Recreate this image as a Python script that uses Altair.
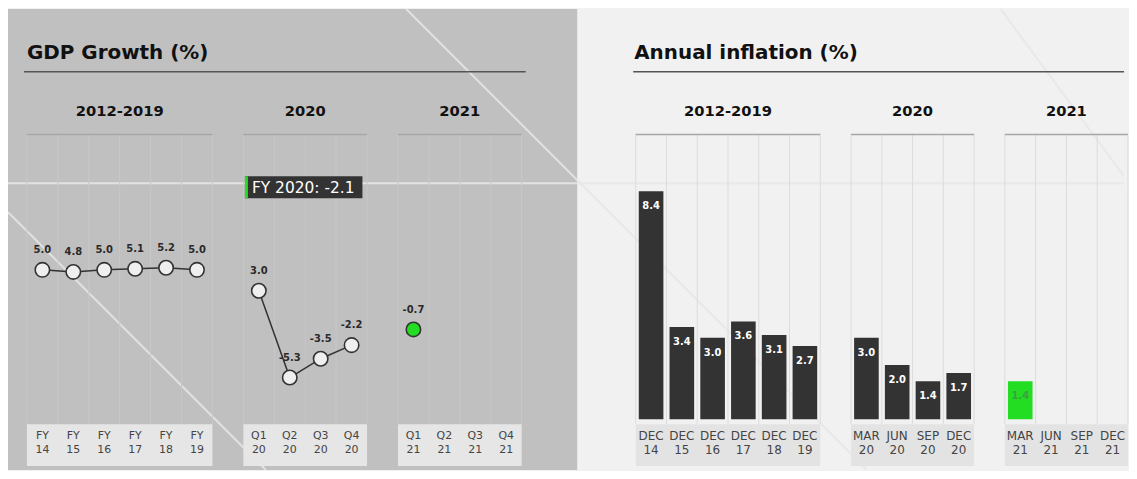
import altair as alt
import pandas as pd

# ------------------------------------------------------------------ data
group_names = ["2012-2019", "2020", "2021"]

gdp_title = "GDP Growth (%)"
gdp_2012_2019_labels = ["FY 14", "FY 15", "FY 16", "FY 17", "FY 18", "FY 19"]
gdp_2012_2019_values = [5.0, 4.8, 5.0, 5.1, 5.2, 5.0]
gdp_2020_labels = ["Q1 20", "Q2 20", "Q3 20", "Q4 20"]
gdp_2020_values = [3.0, -5.3, -3.5, -2.2]
gdp_2021_labels = ["Q1 21", "Q2 21", "Q3 21", "Q4 21"]
gdp_2021_values = [-0.7, None, None, None]
gdp_note = "FY 2020: -2.1"

infl_title = "Annual inflation (%)"
infl_2012_2019_labels = ["DEC 14", "DEC 15", "DEC 16", "DEC 17", "DEC 18", "DEC 19"]
infl_2012_2019_values = [8.4, 3.4, 3.0, 3.6, 3.1, 2.7]
infl_2020_labels = ["MAR 20", "JUN 20", "SEP 20", "DEC 20"]
infl_2020_values = [3.0, 2.0, 1.4, 1.7]
infl_2021_labels = ["MAR 21", "JUN 21", "SEP 21", "DEC 21"]
infl_2021_values = [1.4, None, None, None]

# ------------------------------------------------------------------ style
FONT = "DejaVu Sans"
H = 463
LEFT_W, RIGHT_W = 572, 549
GREEN = "#22dd22"
DARK = "#333333"


def build(groups):
    rows, grows, grid = [], [], []
    start = 0
    for name, labels, values in groups:
        n = len(labels)
        grows.append(dict(group=name, start=start, end=start + n, center=start + n / 2))
        for k in range(n + 1):
            grid.append(dict(pos=start + k))
        for i, (lab, val) in enumerate(zip(labels, values)):
            top, bottom = lab.split(" ")
            rows.append(dict(group=name, top=top, bottom=bottom,
                             pos=start + i + 0.5, x0=start + i + 0.1, x1=start + i + 0.9,
                             value=val, zero=0.0,
                             txt=("" if val is None else f"{val:.1f}"), kind="normal"))
        start += n + 1
    df = pd.DataFrame(rows)
    last = df["value"].last_valid_index()
    df.loc[last, "kind"] = "latest"
    return df, pd.DataFrame(grows), pd.DataFrame(grid)


def xscale(view_w, first_px, slot_px):
    return alt.Scale(domain=[-first_px / slot_px, (view_w - first_px) / slot_px], nice=False, zero=False)


def yscale(anchor_val, anchor_px, px_per_unit):
    return alt.Scale(domain=[anchor_val - (H - anchor_px) / px_per_unit,
                             anchor_val + anchor_px / px_per_unit], nice=False, zero=False)


one = pd.DataFrame({"a": [0]})


def panel_frame(w, bg, deco_color, deco_lines, title, title_x, line_x1, line_x2,
                grp, grid, cats, xs, grid_color, box_color, label_size):
    layers = [
        alt.Chart(one).mark_rect(color=bg).encode(
            x=alt.value(0), x2=alt.value(w), y=alt.value(0), y2=alt.value(H)),
    ]
    for (a, b, c, d) in deco_lines:
        layers.append(alt.Chart(one).mark_rule(color=deco_color, strokeWidth=2, clip=True).encode(
            x=alt.value(a), y=alt.value(b), x2=alt.value(c), y2=alt.value(d)))
    layers += [
        alt.Chart(one).mark_text(text=title, align="left", baseline="middle", font=FONT,
                                 fontSize=20, fontWeight="bold", color="#111111").encode(
            x=alt.value(title_x), y=alt.value(44)),
        alt.Chart(one).mark_rule(color="#555555", strokeWidth=1.5).encode(
            x=alt.value(line_x1), x2=alt.value(line_x2), y=alt.value(63)),
        alt.Chart(grp).mark_text(font=FONT, fontSize=14.8, fontWeight="bold", color="#111111",
                                 baseline="middle").encode(
            x=alt.X("center:Q", scale=xs, axis=None), y=alt.value(103), text="group:N"),
        alt.Chart(grid).mark_rule(color=grid_color, strokeWidth=1).encode(
            x=alt.X("pos:Q", scale=xs, axis=None), y=alt.value(126), y2=alt.value(417)),
        alt.Chart(grp).mark_rule(color="#a6a6a6", strokeWidth=1.5).encode(
            x=alt.X("start:Q", scale=xs, axis=None), x2="end:Q", y=alt.value(126)),
        alt.Chart(grp).mark_rect(color=box_color).encode(
            x=alt.X("start:Q", scale=xs, axis=None), x2="end:Q", y=alt.value(417), y2=alt.value(459)),
        alt.Chart(cats).mark_text(baseline="middle", font=FONT, fontSize=label_size,
                                  color="#444444").encode(
            x=alt.X("pos:Q", scale=xs, axis=None), y=alt.value(429), text="top:N"),
        alt.Chart(cats).mark_text(baseline="middle", font=FONT, fontSize=label_size,
                                  color="#444444").encode(
            x=alt.X("pos:Q", scale=xs, axis=None), y=alt.value(443), text="bottom:N"),
    ]
    return layers


# ------------------------------------------------------------------ GDP panel
gdp_df, gdp_grp, gdp_grid = build([
    (group_names[0], gdp_2012_2019_labels, gdp_2012_2019_values),
    (group_names[1], gdp_2020_labels, gdp_2020_values),
    (group_names[2], gdp_2021_labels, gdp_2021_values),
])
gdp_pts = gdp_df.dropna(subset=["value"])
xs_l = xscale(LEFT_W, 19, 31.06)
ys_l = yscale(5.0, 262, 10.5)

left_layers = panel_frame(
    LEFT_W, "#c0c0c0", "#e2e2e2",
    [(400, 0, 572, 172), (0, 204, 259, 463), (0, 175, 572, 175)],
    gdp_title, 19, 16, 520, gdp_grp, gdp_grid, gdp_df, xs_l, "#c8c8c8", "#e6e6e6", 11)

left_layers += [
    alt.Chart(one).mark_rect(color=DARK).encode(
        x=alt.value(238), x2=alt.value(356), y=alt.value(168), y2=alt.value(190)),
    alt.Chart(one).mark_rect(color=GREEN).encode(
        x=alt.value(238), x2=alt.value(241), y=alt.value(168), y2=alt.value(190)),
    alt.Chart(one).mark_text(text=gdp_note, align="left", baseline="middle", font=FONT,
                             fontSize=15.5, color="#ffffff").encode(
        x=alt.value(245), y=alt.value(179.5)),
    alt.Chart(gdp_pts).mark_line(color=DARK, strokeWidth=1.5).encode(
        x=alt.X("pos:Q", scale=xs_l, axis=None),
        y=alt.Y("value:Q", scale=ys_l, axis=None), detail="group:N"),
    alt.Chart(gdp_pts).mark_circle(size=210, stroke=DARK, strokeWidth=1.6, opacity=1).encode(
        x=alt.X("pos:Q", scale=xs_l, axis=None),
        y=alt.Y("value:Q", scale=ys_l, axis=None),
        fill=alt.Fill("kind:N", scale=alt.Scale(domain=["normal", "latest"],
                                                range=["#efefef", GREEN]), legend=None)),
    alt.Chart(gdp_pts).mark_text(dy=-20, font=FONT, fontSize=10, fontWeight="bold",
                                 color="#2a2a2a").encode(
        x=alt.X("pos:Q", scale=xs_l, axis=None),
        y=alt.Y("value:Q", scale=ys_l, axis=None), text="txt:N"),
]
left = alt.layer(*left_layers).properties(width=LEFT_W, height=H)

# ------------------------------------------------------------------ inflation panel
infl_df, infl_grp, infl_grid = build([
    (group_names[0], infl_2012_2019_labels, infl_2012_2019_values),
    (group_names[1], infl_2020_labels, infl_2020_values),
    (group_names[2], infl_2021_labels, infl_2021_values),
])
infl_bars = infl_df.dropna(subset=["value"])
xs_r = xscale(RIGHT_W, 58.5, 30.9)
ys_r = yscale(0.0, 412, 27.26)

right_layers = panel_frame(
    RIGHT_W, "#f1f1f1", "#e8e8e8",
    [(0, 172, 291, 463), (0, 175, 549, 175), (425, 0, 549, 168)],
    infl_title, 57, 56, 549, infl_grp, infl_grid, infl_df, xs_r, "#dcdcdc", "#e3e3e3", 12)

right_layers += [
    alt.Chart(infl_bars).mark_rect().encode(
        x=alt.X("x0:Q", scale=xs_r, axis=None), x2="x1:Q",
        y=alt.Y("value:Q", scale=ys_r, axis=None), y2="zero:Q",
        fill=alt.Fill("kind:N", scale=alt.Scale(domain=["normal", "latest"],
                                                range=[DARK, GREEN]), legend=None)),
    alt.Chart(infl_bars).mark_text(dy=15, font=FONT, fontSize=10, fontWeight="bold",
                                   baseline="middle").encode(
        x=alt.X("pos:Q", scale=xs_r, axis=None),
        y=alt.Y("value:Q", scale=ys_r, axis=None), text="txt:N",
        color=alt.Color("kind:N", scale=alt.Scale(domain=["normal", "latest"],
                                                  range=["#ffffff", "#3f9f3f"]), legend=None)),
]
right = alt.layer(*right_layers).properties(width=RIGHT_W, height=H)

chart = alt.hconcat(left, right, spacing=0).resolve_scale(
    fill="independent", color="independent",
).properties(
    padding=0, bounds="flush", background="#f1f1f1",
).configure_view(strokeWidth=0)

chart.save("out.html", embed_options={"renderer": "svg", "actions": False})
